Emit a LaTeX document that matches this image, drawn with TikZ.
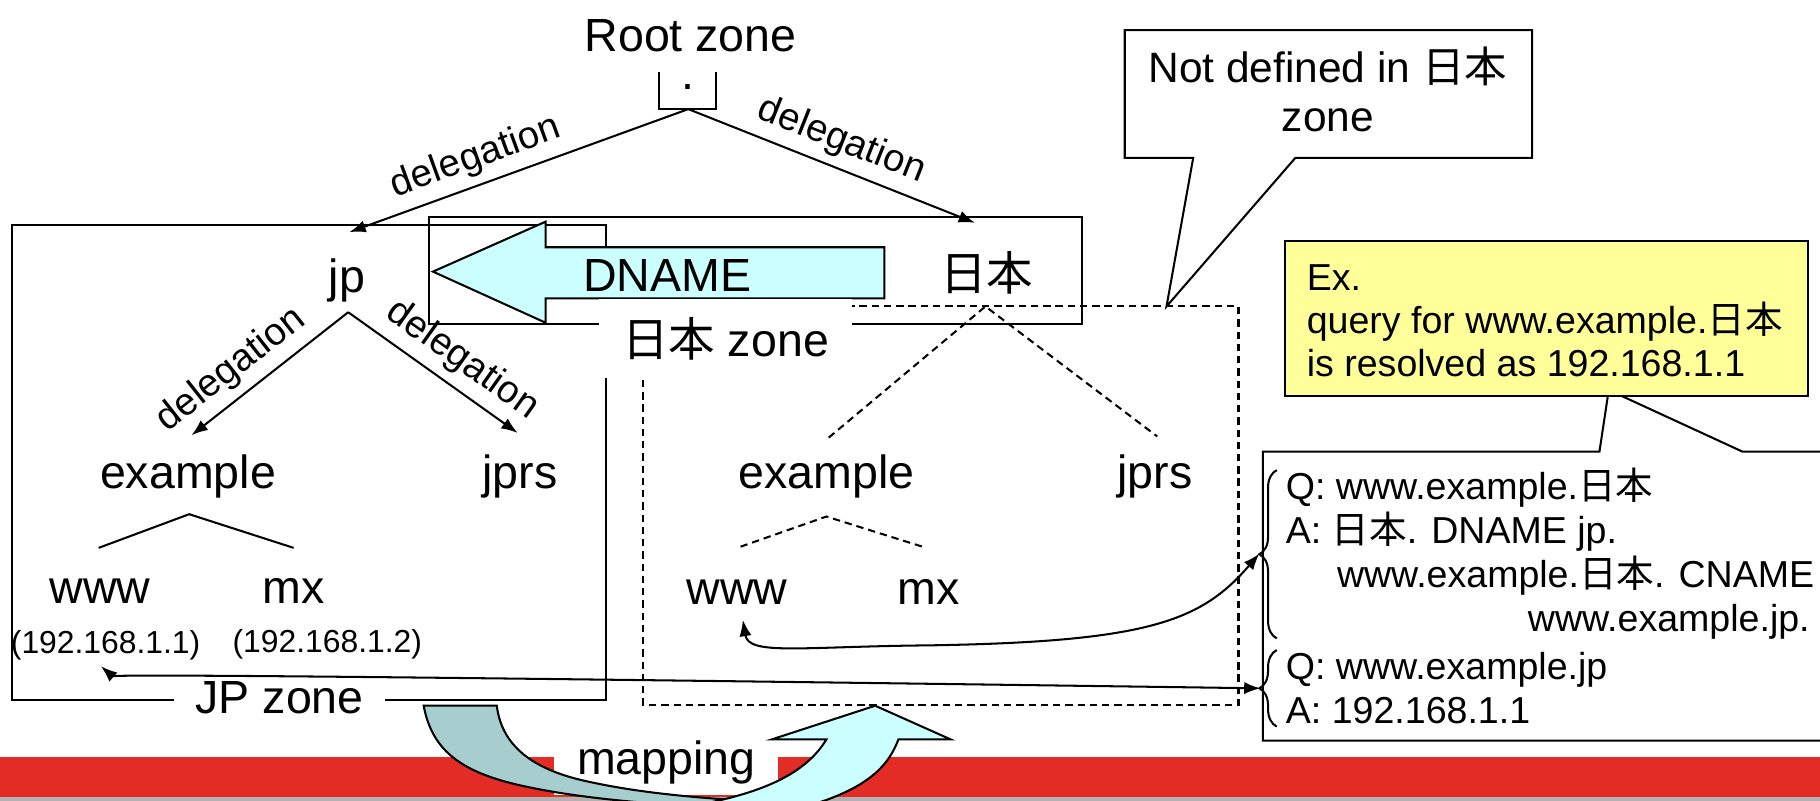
\documentclass[tikz,border=0pt]{standalone}
\usepackage{fontspec}
\setmainfont{Liberation Sans}
\newfontfamily\cjk{Noto Sans CJK JP}
\newcommand{\nihon}{{\cjk 日本}}
\usetikzlibrary{arrows.meta,decorations.pathreplacing}

\definecolor{dnamecyan}{RGB}{204,255,255}
\definecolor{shadeteal}{RGB}{166,206,206}
\definecolor{notepaper}{RGB}{255,255,153}
\definecolor{barred}{RGB}{228,44,38}
\definecolor{bargray}{RGB}{178,178,178}

\begin{document}
\begin{tikzpicture}[x=0.01cm, y=-0.01cm, line width=0.5pt,
    domname/.style={anchor=base, inner sep=0pt, font=\fontsize{11.4}{13}\selectfont},
    zonetag/.style={fill=white, inner sep=0pt, font=\fontsize{11.4}{13}\selectfont},
    addr/.style={anchor=base, inner sep=0pt, font=\fontsize{7.8}{9}\selectfont},
    qa/.style={anchor=base west, inner sep=0pt, font=\fontsize{9.2}{11}\selectfont},
    deleg/.style={-{Latex[length=4pt,width=3pt]}},
    dlabel/.style={sloped, above, inner sep=2pt, font=\fontsize{9.4}{11}\selectfont},
    undef/.style={dash pattern=on 1.8pt off 1.2pt},
    twoway/.style={{Latex[length=4pt,width=3pt]}-{Latex[length=4pt,width=3pt]}},
    qbrace/.style={decorate, decoration={brace, amplitude=0.15cm}}]

    \useasboundingbox (0,0) rectangle (1568,690);

    % footer bar and the mapping arrow
    \fill[barred] (0,652) rectangle (1568,687);
    \fill[bargray] (0,687) rectangle (1568,690);
    \node[fill=white, inner sep=0pt, minimum width=1.93cm, minimum height=0.56cm,
        font=\fontsize{11.4}{13}\selectfont] (mapping) at (574,657) {mapping};
    \draw[fill=shadeteal] (365,608) -- (428,608)
        .. controls (432,640) and (455,662) .. (505,673)
        .. controls (550,683) and (600,688) .. (680,692)
        -- (680,720) -- (640,720) -- (640,697)
        .. controls (560,693) and (500,688) .. (450,677)
        .. controls (395,665) and (372,645) .. (365,608) -- cycle;
    \draw[fill=dnamecyan] (580,697) .. controls (660,685) and (695,665) .. (712,637)
        -- (665,637) -- (754,608) -- (819,637) -- (774,637)
        .. controls (762,670) and (730,690) .. (650,705)
        -- (580,705) -- cycle;

    % zones
    \draw (10,194) rectangle (522,603);
    \draw (370,187) rectangle (932,279);
    \draw[undef] (554,264) rectangle (1067,607);
    \draw[fill=dnamecyan] (373,234) -- (470,191) -- (470,213) -- (762,213)
        -- (762,257) -- (470,257) -- (470,278) -- cycle;
    \node[domname] (dname) at (575,251) {DNAME};

    % root
    \node[domname] (root) at (595,44) {Root zone};
    \draw (568,62) -- (568,94) -- (617,94) -- (617,62);
    \node[domname] (rootdot) at (593,77) {.};

    \coordinate (rootapex) at (593,94);
    \coordinate (jptip) at (301,200);
    \coordinate (nihontip) at (840,192);
    \coordinate (jpapex) at (300,269);
    \coordinate (exltip) at (165,375);
    \coordinate (jprsltip) at (446,373);
    \coordinate (nihonapex) at (849,264);
    \coordinate (exrend) at (714,377);
    \coordinate (jprsrend) at (997,376);
    \coordinate (exlapex) at (163,443);
    \coordinate (wwwlend) at (85,472);
    \coordinate (mxlend) at (253,472);
    \coordinate (exrapex) at (712,445);
    \coordinate (wwwrend) at (638,471);
    \coordinate (mxrend) at (798,472);

    \node[domname] (jp) at (299,252) {jp};
    \node[domname] (nihon) at (850,250) {\nihon};

    \draw[deleg] (rootapex) -- node[dlabel, pos=.6] {delegation} (jptip);
    \draw[deleg] (rootapex) -- node[dlabel, pos=.5] {delegation} (nihontip);

    % JP zone tree
    \draw[deleg] (jpapex) -- node[dlabel, pos=.64] {delegation} (exltip);
    \draw[deleg] (jpapex) -- node[dlabel, pos=.58] {delegation} (jprsltip);
    \node[domname] (exl) at (162,421) {example};
    \node[domname] (jprsl) at (448,421) {jprs};
    \draw (wwwlend) -- (exlapex) -- (mxlend);
    \node[domname] (wwwl) at (86,520) {www};
    \node[domname] (mxl) at (253,520) {mx};
    \node[addr] (ipwww) at (91,563) {(192.168.1.1)};
    \node[addr] (ipmx) at (282,562) {(192.168.1.2)};
    \node[zonetag, minimum width=1.82cm] (jpzone) at (241,601) {JP zone};

    % nihon zone tree, not defined
    \draw[undef] (exrend) -- (nihonapex) -- (jprsrend);
    \node[domname] (exr) at (712,421) {example};
    \node[domname] (jprsr) at (995,421) {jprs};
    \draw[undef] (wwwrend) -- (exrapex) -- (mxrend);
    \node[domname] (wwwr) at (635,521) {www};
    \node[domname] (mxr) at (800,521) {mx};
    \node[zonetag, minimum width=2.18cm, minimum height=0.68cm] (nihonzone) at (625,292) {\nihon{} zone};

    % callouts
    \draw[fill=white] (969,26) -- (1320,26) -- (1320,136) -- (1116,136) -- (1005,264)
        -- (1028,136) -- (969,136) -- cycle;
    \node[anchor=base, inner sep=0pt, font=\fontsize{10.4}{12}\selectfont] (nd1) at (1144,71) {Not defined in \nihon};
    \node[anchor=base, inner sep=0pt, font=\fontsize{10.4}{12}\selectfont] (nd2) at (1144,113) {zone};

    \draw[fill=white] (1088,389) -- (1378,389) -- (1386,336) -- (1501,389) -- (1580,389)
        -- (1580,638) -- (1088,638) -- cycle;
    \draw[fill=notepaper] (1107,208) rectangle (1558,341);
    \node[qa] (ex1) at (1125,250) {Ex.};
    \node[qa] (ex2) at (1125,287) {query for www.example.\nihon};
    \node[qa] (ex3) at (1125,324) {is resolved as 192.168.1.1};

    \node[qa] (q1) at (1107,430) {Q: www.example.\nihon};
    \node[qa] (a1) at (1107,468) {A: \nihon. DNAME jp.};
    \node[qa] (a1b) at (1151,506) {www.example.\nihon. CNAME};
    \node[qa, anchor=base east] (a1c) at (1560,544) {www.example.jp.};
    \node[qa] (q2) at (1107,585) {Q: www.example.jp};
    \node[qa] (a2) at (1107,623) {A: 192.168.1.1};

    \draw[qbrace] (1100,550) -- (1100,405);
    \draw[qbrace] (1100,626) -- (1100,560);
    \coordinate (brace1tip) at (1085,477);
    \coordinate (brace2tip) at (1086,593);
    \coordinate (wwwrtip) at (640,534);
    \coordinate (iptip) at (87,574);

    \draw[twoway] (wwwrtip) .. controls (645,565) and (690,557) .. (800,556)
        .. controls (990,553) and (1035,535) .. (brace1tip);
    \draw[twoway] (iptip) .. controls (95,581) and (300,582) .. (brace2tip);
\end{tikzpicture}
\end{document}
